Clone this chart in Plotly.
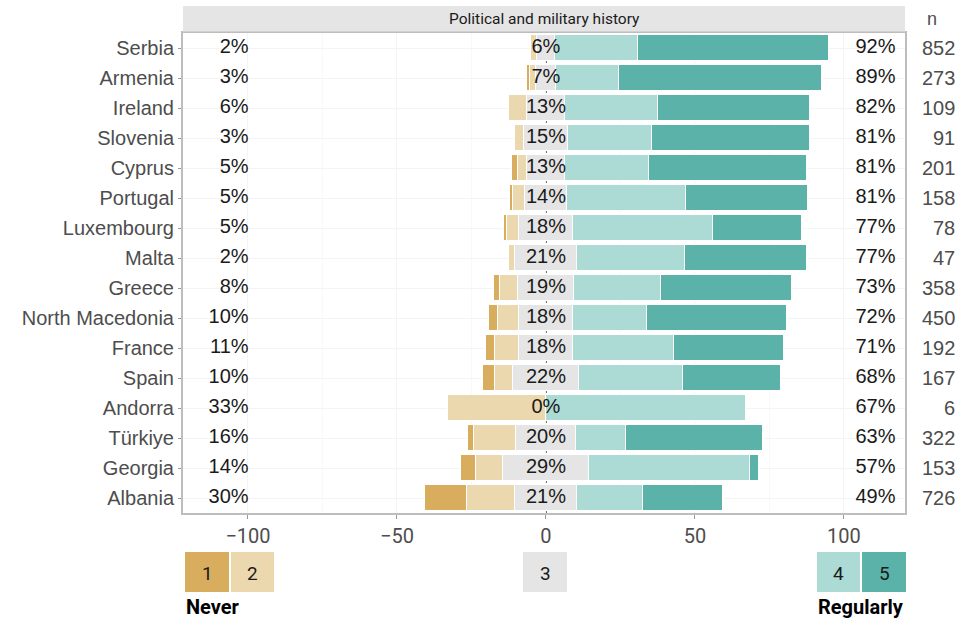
import plotly.graph_objects as go

countries = ['Serbia', 'Armenia', 'Ireland', 'Slovenia', 'Cyprus', 'Portugal', 'Luxembourg',
             'Malta', 'Greece', 'North Macedonia', 'France', 'Spain', 'Andorra', 'Türkiye',
             'Georgia', 'Albania']
p1 = [0, 1, 0, 0, 2, 1, 1, 0, 2, 3, 3, 4, 0, 2, 5, 14]
p2 = [2, 2, 6, 3, 3, 4, 4, 2, 6, 7, 8, 6, 33, 14, 9, 16]
p3 = [6, 7, 13, 15, 13, 14, 18, 21, 19, 18, 18, 22, 0, 20, 29, 21]
p4 = [28, 21, 31, 28, 28, 40, 47, 36, 29, 25, 34, 35, 67, 17, 54, 22]
p5 = [64, 68, 51, 53, 53, 41, 30, 41, 44, 47, 37, 33, 0, 46, 3, 27]
neg_lab = [2, 3, 6, 3, 5, 5, 5, 2, 8, 10, 11, 10, 33, 16, 14, 30]
pos_lab = [92, 89, 82, 81, 81, 81, 77, 77, 73, 72, 71, 68, 67, 63, 57, 49]
n = [852, 273, 109, 91, 201, 158, 78, 47, 358, 450, 192, 167, 6, 322, 153, 726]
title = 'Political and military history'

colors = {'1': '#d8ae5e', '2': '#ecd8ae', '3': '#e5e5e5', '4': '#acdad4', '5': '#5ab2a8'}

half = [v / 2 for v in p3]
base3 = [-h for h in half]
base2 = [-h - b for h, b in zip(half, p2)]
base1 = [-h - b - a for h, b, a in zip(half, p2, p1)]
base4 = half
base5 = [h + d for h, d in zip(half, p4)]

fig = go.Figure()
for key, vals, base in [('1', p1, base1), ('2', p2, base2), ('3', p3, base3),
                        ('4', p4, base4), ('5', p5, base5)]:
    fig.add_trace(go.Bar(y=countries, x=vals, base=base, orientation='h', width=0.86,
                         marker=dict(color=colors[key], line=dict(color='white', width=1)),
                         showlegend=False, hoverinfo='skip'))

lab_font = dict(family='Liberation Sans, Arial', size=20, color='#1a1a1a')
fig.add_trace(go.Scatter(y=countries, x=[-99.8] * len(countries), mode='text',
                         text=[f'{v}%' for v in neg_lab], textposition='middle left',
                         textfont=lab_font, showlegend=False, hoverinfo='skip'))
fig.add_trace(go.Scatter(y=countries, x=[0] * len(countries), mode='text',
                         text=[f'{v}%' for v in p3], textposition='middle center',
                         textfont=lab_font, showlegend=False, hoverinfo='skip'))
fig.add_trace(go.Scatter(y=countries, x=[117.3] * len(countries), mode='text',
                         text=[f'{v}%' for v in pos_lab], textposition='middle left',
                         textfont=lab_font, showlegend=False, hoverinfo='skip'))

# zero line (dotted, under bars)
fig.add_shape(type='line', x0=0, x1=0, y0=0, y1=1, xref='x', yref='paper', layer='below',
              line=dict(color='#333333', width=1.5, dash='dot'))

# n column
for c, v in zip(countries, n):
    fig.add_annotation(x=1.0715, y=c, xref='paper', yref='y', text=str(v), showarrow=False,
                       xanchor='right', yanchor='middle',
                       font=dict(family='Liberation Sans, Arial', size=20, color='#4d4d4d'))
fig.add_annotation(x=1.037, y=1.03, xref='paper', yref='paper', text='n', showarrow=False,
                   xanchor='center', yanchor='middle',
                   font=dict(family='Liberation Sans, Arial', size=18, color='#4d4d4d'))

# strip header
fig.add_shape(type='rect', x0=0, x1=1, y0=1.003, y1=1.056, xref='paper', yref='paper',
              fillcolor='#e5e5e5', line=dict(width=0))
fig.add_annotation(x=0.5, y=1.029, xref='paper', yref='paper', text=title, showarrow=False,
                   xanchor='center', yanchor='middle',
                   font=dict(family='Roboto', size=15.5, color='#1a1a1a'))

# legend boxes below
W, H = 722, 480
def px(x):
    return (x - 183) / W
def py(y):
    return (513 - y) / H
boxes = [('1', 185, 229), ('2', 231, 274), ('3', 523, 567), ('4', 817, 860), ('5', 862, 906)]
for key, a, b in boxes:
    fig.add_shape(type='rect', x0=px(a), x1=px(b), y0=py(592), y1=py(552), xref='paper',
                  yref='paper', fillcolor=colors[key], line=dict(width=0))
    fig.add_annotation(x=px((a + b) / 2), y=py(573), xref='paper', yref='paper', text=key,
                       showarrow=False, xanchor='center', yanchor='middle',
                       font=dict(family='Roboto', size=19, color='#1a1a1a'))
fig.add_annotation(x=px(184), y=py(607), xref='paper', yref='paper', text='<b>Never</b>',
                   showarrow=False, xanchor='left', yanchor='middle',
                   font=dict(family='Roboto', size=20, color='#000000'))
fig.add_annotation(x=px(906), y=py(607), xref='paper', yref='paper', text='<b>Regularly</b>',
                   showarrow=False, xanchor='right', yanchor='middle',
                   font=dict(family='Roboto', size=20, color='#000000'))

fig.update_layout(
    width=959, height=619, barmode='overlay', bargap=0,
    margin=dict(l=183, r=54, t=33, b=106),
    paper_bgcolor='white', plot_bgcolor='white',
    xaxis=dict(range=[-121.8, 120.5], tickvals=[-100, -50, 0, 50, 100], showgrid=True,
               gridcolor='#f4f4f4', gridwidth=1, zeroline=False,
               minor=dict(tickvals=[-75, -25, 25, 75], showgrid=True, gridcolor='#f8f8f8'),
               showline=True, mirror=True, linecolor='#bdbdbd', linewidth=2,
               ticks='outside', ticklen=4, tickcolor='#999999',
               tickfont=dict(family='Roboto', size=20, color='#4d4d4d')),
    yaxis=dict(categoryorder='array', categoryarray=countries, range=[15.5, -0.5],
               showgrid=True, gridcolor='#f4f4f4', showline=True, mirror=True,
               linecolor='#bdbdbd', linewidth=2, ticks='outside', ticklen=3,
               tickcolor='#999999',
               tickfont=dict(family='Liberation Sans, Arial', size=20, color='#4d4d4d')),
)

fig.write_html('out.html', config={'displayModeBar': False},
               post_script="document.body.style.margin='0';"
                           "document.body.style.overflow='hidden';")
